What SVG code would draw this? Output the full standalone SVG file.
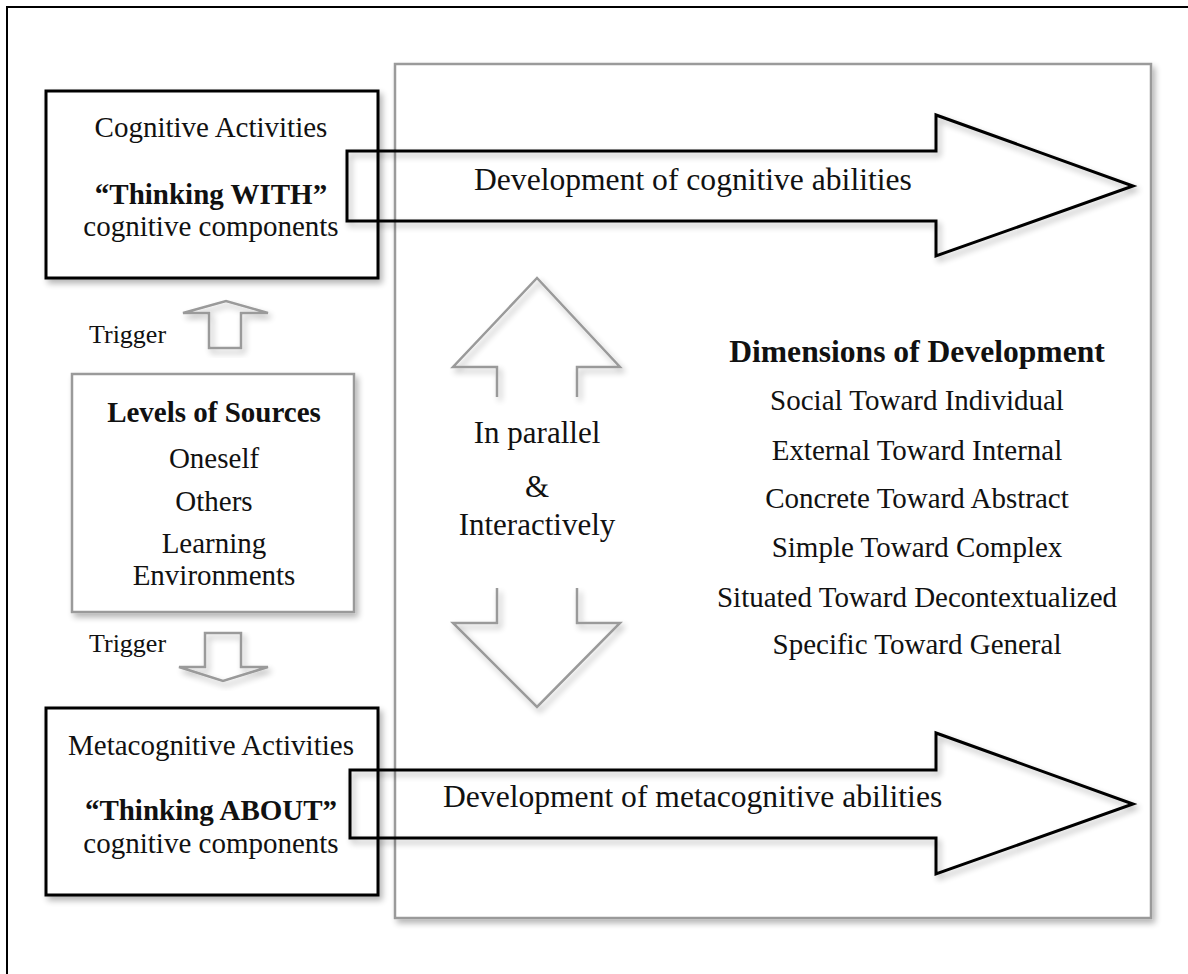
<svg xmlns="http://www.w3.org/2000/svg" width="1188" height="974" viewBox="0 0 1188 974">
  <style>
    text { font-family: "Liberation Serif", "Times New Roman", serif; fill: #111; }
    .c { text-anchor: middle; }
    .b { font-weight: bold; }
    .t29 { font-size: 29px; }
    .t31 { font-size: 31px; }
    .t316 { font-size: 31.6px; }
    .t26 { font-size: 26px; }
    .black { fill: #fff; stroke: #000; stroke-width: 3; }
    .gray { fill: #fff; stroke: #9a9a9a; stroke-width: 2.5; }
    .grayline { fill: none; stroke: #9a9a9a; stroke-width: 2.5; stroke-linejoin: miter; }
    .blackline { fill: none; stroke: #000; stroke-width: 3; stroke-linejoin: miter; }
  </style>
  <defs>
    <filter id="shadow" x="-10%" y="-10%" width="130%" height="130%">
      <feGaussianBlur in="SourceAlpha" stdDeviation="3"/>
      <feOffset dx="3" dy="4" result="blur"/>
      <feComponentTransfer><feFuncA type="linear" slope="0.3"/></feComponentTransfer>
      <feMerge><feMergeNode/><feMergeNode in="SourceGraphic"/></feMerge>
    </filter>
  </defs>

  <rect x="0" y="0" width="1188" height="974" fill="#fff"/>
  <!-- outer frame -->
  <rect x="7" y="7" width="1200" height="1000" fill="none" stroke="#000" stroke-width="2"/>

  <!-- development panel -->
  <g id="panel">
    <rect x="395" y="64" width="756" height="854" class="gray" filter="url(#shadow)"/>
  </g>

  <g id="cognitive">
    <rect x="46" y="91" width="332" height="187" class="black" filter="url(#shadow)"/>
    <text x="211" y="137" class="c t29">Cognitive Activities</text>
    <text x="211" y="204" class="c t29 b">“Thinking WITH”</text>
    <text x="211" y="236" class="c t29">cognitive components</text>
  </g>

  <g id="sources">
    <rect x="72" y="374" width="282" height="238" class="gray" filter="url(#shadow)"/>
    <text x="214" y="422" class="c t29 b">Levels of Sources</text>
    <text x="214" y="468" class="c t29">Oneself</text>
    <text x="214" y="511" class="c t29">Others</text>
    <text x="214" y="553" class="c t29">Learning</text>
    <text x="214" y="585" class="c t29">Environments</text>
  </g>

  <g id="metacognitive">
    <rect x="46" y="708" width="332" height="187" class="black" filter="url(#shadow)"/>
    <text x="211" y="755" class="c t29">Metacognitive Activities</text>
    <text x="211" y="820" class="c t29 b">“Thinking ABOUT”</text>
    <text x="211" y="853" class="c t29">cognitive components</text>
  </g>

  <g id="dimensions">
    <text x="917" y="362" class="c t316 b">Dimensions of Development</text>
    <text x="917" y="410" class="c t29">Social Toward Individual</text>
    <text x="917" y="460" class="c t29">External Toward Internal</text>
    <text x="917" y="508" class="c t29">Concrete Toward Abstract</text>
    <text x="917" y="557" class="c t29">Simple Toward Complex</text>
    <text x="917" y="607" class="c t29">Situated Toward Decontextualized</text>
    <text x="917" y="654" class="c t29">Specific Toward General</text>
  </g>

  <g id="connectors">
    <!-- trigger arrows -->
    <polygon points="209,348 209,313 183,313 226,301 268,313 241,313 241,348" class="grayline" filter="url(#shadow)"/>
    <text x="89" y="343" class="t26">Trigger</text>
    <polygon points="205,633 241,633 241,667 268,667 223,681 179,667 205,667" class="grayline" filter="url(#shadow)"/>
    <text x="89" y="652" class="t26">Trigger</text>

    <!-- development arrows -->
    <polygon points="347,151 936,151 936,115 1133,186 936,256 936,221 347,221" class="blackline" filter="url(#shadow)"/>
    <text x="474" y="190" class="t316">Development of cognitive abilities</text>
    <polygon points="350,770 936,770 936,733 1133,804 936,874 936,838 350,838" class="blackline" filter="url(#shadow)"/>
    <text x="443" y="807" class="t316">Development of metacognitive abilities</text>

    <!-- two-way arrow -->
    <polyline points="497,397 497,367 453,367 537,278 620,367 577,367 577,397" class="grayline" filter="url(#shadow)"/>
    <polyline points="497,588 497,623 453,623 537,707 620,623 577,623 577,588" class="grayline" filter="url(#shadow)"/>
    <text x="537" y="443" class="c t31">In parallel</text>
    <text x="537" y="497" class="c t31">&amp;</text>
    <text x="537" y="535" class="c t31">Interactively</text>
  </g>
</svg>
